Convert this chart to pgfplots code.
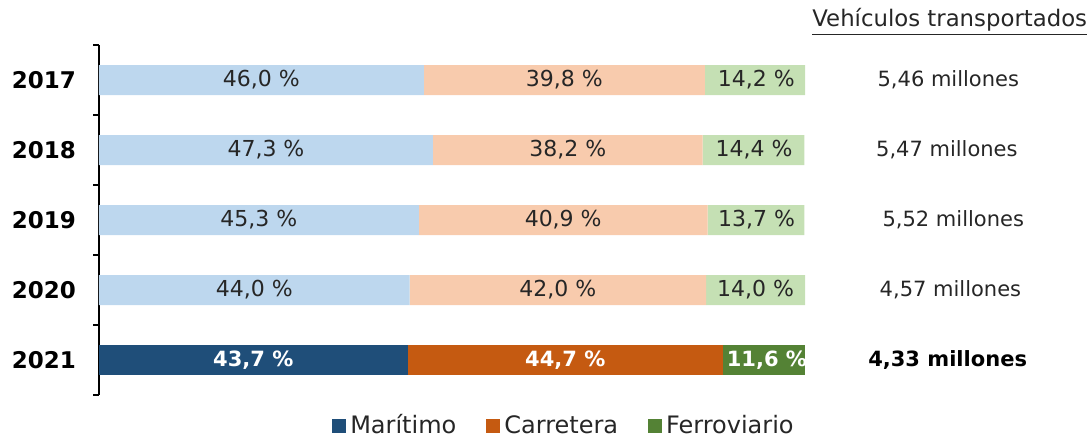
\documentclass[border=0pt]{standalone}
\usepackage{fontspec}
\setmainfont{DejaVu Sans}
\usepackage{pgfplots}
\pgfplotsset{compat=1.18}
\definecolor{lblue}{HTML}{BDD7EE}
\definecolor{lorange}{HTML}{F8CBAD}
\definecolor{lgreen}{HTML}{C5E0B4}
\definecolor{mdark}{HTML}{1F4E79}
\definecolor{morange}{HTML}{C55A11}
\definecolor{mgreen}{HTML}{548235}
\definecolor{tgray}{HTML}{262626}
\begin{document}
\begin{tikzpicture}
\pgfplotsset{common/.style={
  at={(0pt,0pt)}, anchor=south west, scale only axis, width=353pt, height=175pt,
  xmin=0, xmax=100, ymin=-0.5, ymax=4.5, y dir=reverse,
  xbar stacked, bar width=15pt,
}}
\tikzset{lbl/.style={font=\fontsize{11}{12}\selectfont, text=tgray},
  wlbl/.style={font=\bfseries\fontsize{10.5}{12}\selectfont, text=white},
  rt/.style={font=\fontsize{10.5}{12}\selectfont, text=tgray}}
\begin{axis}[common, clip=false,
  axis x line=none, axis y line=left, axis line style={-, line width=0.8pt, black},
  ytick={0,1,2,3,4}, yticklabels={2017,2018,2019,2020,2021},
  major tick length=0pt,
  minor ytick={-0.5,0.5,1.5,2.5,3.5,4.5}, minor tick length=3pt,
  tick align=outside, ytick pos=left,
  every minor tick/.style={line width=0.8pt, black},
  yticklabel style={font=\bfseries\fontsize{11.5}{12}\selectfont, xshift=-8pt},
  after end axis/.code={
    \node[lbl] at (axis cs:23.0,0) {46,0 \%};
    \node[lbl] at (axis cs:65.9,0) {39,8 \%};
    \node[lbl] at (axis cs:93.1,0) {14,2 \%};
    \node[lbl] at (axis cs:23.65,1) {47,3 \%};
    \node[lbl] at (axis cs:66.4,1) {38,2 \%};
    \node[lbl] at (axis cs:92.8,1) {14,4 \%};
    \node[lbl] at (axis cs:22.65,2) {45,3 \%};
    \node[lbl] at (axis cs:65.75,2) {40,9 \%};
    \node[lbl] at (axis cs:93.15,2) {13,7 \%};
    \node[lbl] at (axis cs:22.0,3) {44,0 \%};
    \node[lbl] at (axis cs:65.0,3) {42,0 \%};
    \node[lbl] at (axis cs:93.0,3) {14,0 \%};
  },
]
\addplot[fill=lblue, draw=none] coordinates {(46.0,0) (47.3,1) (45.3,2) (44.0,3)};
\addplot[fill=lorange, draw=none] coordinates {(39.8,0) (38.2,1) (40.9,2) (42.0,3)};
\addplot[fill=lgreen, draw=none] coordinates {(14.2,0) (14.4,1) (13.7,2) (14.0,3)};
\node[rt] at (axis cs:120.3,0) {5,46 millones};
\node[rt] at (axis cs:120.1,1) {5,47 millones};
\node[rt] at (axis cs:121.0,2) {5,52 millones};
\node[rt] at (axis cs:120.6,3) {4,57 millones};
\node[rt, font=\bfseries\fontsize{10.5}{12}\selectfont, text=black] at (axis cs:120.2,4) {4,33 millones};
\node[font=\fontsize{11.4}{12}\selectfont, text=tgray] at (axis cs:120.5,-0.83) {\underline{Vehículos transportados}};
\end{axis}
\begin{axis}[common, hide axis,
  legend columns=3,
  legend style={at={(0.66,-0.088)}, anchor=center, draw=none, fill=none,
    font=\fontsize{12}{13}\selectfont, text=tgray, inner sep=0pt,
    /tikz/every even column/.append style={column sep=13pt}},
  legend image code/.code={\fill[#1] (0pt,-3.5pt) rectangle (7pt,3.5pt);},
  after end axis/.code={
    \node[wlbl] at (axis cs:21.85,4) {43,7 \%};
    \node[wlbl] at (axis cs:66.05,4) {44,7 \%};
    \node[wlbl] at (axis cs:94.6,4) {11,6 \%};
  },
]
\addplot[fill=mdark, draw=none] coordinates {(43.7,4)};
\addplot[fill=morange, draw=none] coordinates {(44.7,4)};
\addplot[fill=mgreen, draw=none] coordinates {(11.6,4)};
\legend{Marítimo, Carretera, Ferroviario}
\end{axis}
\pgfresetboundingbox
\useasboundingbox (-49.5pt,-23pt) rectangle (496.5pt,197.5pt);
\end{tikzpicture}
\end{document}
